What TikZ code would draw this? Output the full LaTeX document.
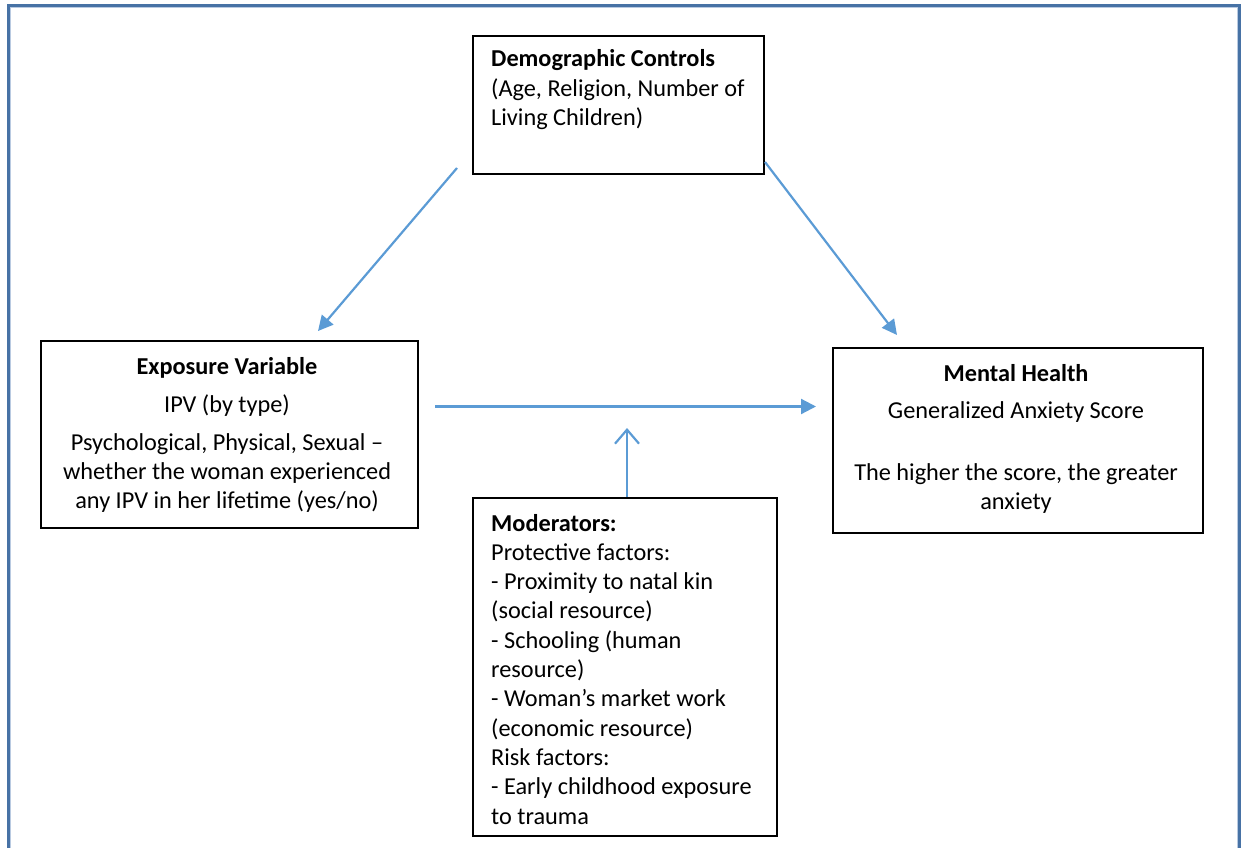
\documentclass[tikz,border=0pt]{standalone}
\usepackage{fontspec}
\setmainfont{Carlito}
\usetikzlibrary{arrows.meta}
\definecolor{frameblue}{RGB}{71,114,165}
\definecolor{framelight}{RGB}{185,202,225}
\definecolor{arrowblue}{RGB}{91,155,213}
\tikzset{
  box/.style={draw=black, line width=1.6pt, rectangle, inner sep=0pt, anchor=north west},
  txt/.style={inner sep=0pt, font=\fontsize{24.3}{29.3}\selectfont},
  arr/.style={draw=arrowblue, line width=2.2pt, -{Triangle[length=15pt,width=15pt]}},
  openarr/.style={draw=arrowblue, line width=2.2pt, -{Straight Barb[length=14pt,width=24pt]}}
}
\begin{document}
\begin{tikzpicture}[x=1pt,y=-1pt]
\useasboundingbox (0,0) rectangle (1242,848);
% outer frame
\draw[framelight, line width=1pt] (10.5,855) -- (10.5,8) -- (1237.5,8) -- (1237.5,855);
\draw[frameblue, line width=3pt] (8.5,855) -- (8.5,6) -- (1239.5,6) -- (1239.5,855);

% boxes
\node[box, minimum width=291pt, minimum height=138pt] (demo) at (472,35) {};
\node[box, minimum width=377pt, minimum height=187pt] (expo) at (40,340) {};
\node[box, minimum width=370pt, minimum height=185pt] (mental) at (832,347) {};
\node[box, minimum width=304pt, minimum height=338pt] (moder) at (472,497) {};

% texts
\node[txt, anchor=base west] (demoT) at (491,67) {\parbox[t]{270pt}{\raggedright
  \textbf{Demographic Controls}\\
  (Age, Religion, Number of\\
  Living Children)}};

\node[txt, anchor=base] (expoT) at (227,374) {\parbox[t]{375pt}{\centering
  \textbf{Exposure Variable}\\[8.7pt]
  IPV (by type)\\[8.7pt]
  Psychological, Physical, Sexual --\\
  whether the woman experienced\\
  any IPV in her lifetime (yes/no)}};

\node[txt, anchor=base] (mentalT) at (1016,381) {\parbox[t]{368pt}{\centering
  \textbf{Mental Health}\\[7.7pt]
  Generalized Anxiety Score\\[32.7pt]
  The higher the score, the greater\\
  anxiety}};

\node[txt, anchor=base west] (moderT) at (491,531) {\parbox[t]{283pt}{\raggedright
  \textbf{Moderators:}\\
  Protective factors:\\
  - Proximity to natal kin\\
  (social resource)\\
  - Schooling (human\\
  resource)\\
  - Woman’s market work\\
  (economic resource)\\
  Risk factors:\\
  - Early childhood exposure\\
  to trauma}};

% arrow end points
\coordinate (a1s) at (457,168);
\coordinate (a1e) at (318,331);
\coordinate (a2s) at (765,162);
\coordinate (a2e) at (897,335);
\coordinate (a3s) at (435,406.5);
\coordinate (a3e) at (816,406.5);
\coordinate (a4s) at (627,497);
\coordinate (a4e) at (627,428);

\draw[arr] (a1s) -- (a1e);
\draw[arr] (a2s) -- (a2e);
\draw[arr] (a3s) -- (a3e);
\draw[openarr] (a4s) -- (a4e);
\end{tikzpicture}
\end{document}
